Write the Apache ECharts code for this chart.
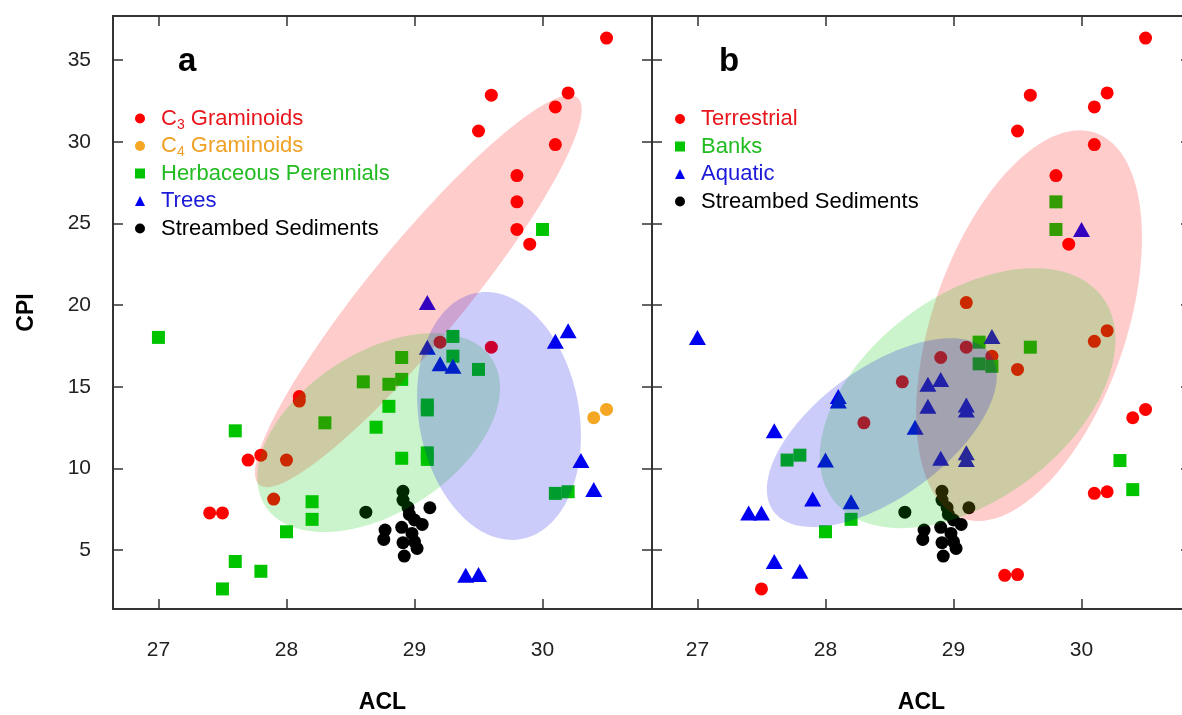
<!DOCTYPE html>
<html>
<head>
<meta charset="utf-8">
<script src="https://cdn.jsdelivr.net/npm/echarts@6/dist/echarts.min.js"></script>
<style>
  html, body { margin: 0; padding: 0; background: #fff; }
  #chart { width: 1182px; height: 715px; }
</style>
</head>
<body>
<div id="chart"></div>
<script>
// every sample: ACL, CPI, plant group (panel a) and habitat (panel b)
// plant: C3, C4, HP = herbaceous perennial, TR = tree, S = streambed sediment
// habitat: T = terrestrial, B = banks, A = aquatic, S = streambed sediment
const acl = [30.50, 29.60, 30.20, 30.10, 29.50, 30.10, 29.80, 29.80, 29.80, 30.00,
  29.90, 29.10, 27.00, 29.30, 29.20, 29.10, 29.60, 28.90, 29.30, 29.20,
  29.30, 29.50, 30.10, 30.20, 28.60, 28.80, 28.90, 28.10, 28.10, 28.80,
  29.10, 29.10, 28.30, 27.60, 28.70, 27.70, 27.80, 28.00, 28.90, 29.10,
  29.10, 30.40, 30.50, 30.30, 30.40, 30.10, 30.20, 27.90, 28.20, 28.20,
  27.40, 27.50, 28.00, 27.60, 27.80, 27.50, 29.40, 29.50,
  28.62, 29.12, 28.91, 28.91, 28.95, 28.96, 29.00, 29.06, 28.77, 28.76,
  28.90, 28.98, 28.91, 29.00, 29.02, 28.92];
const cpi = [36.35, 32.85, 32.99, 32.13, 30.66, 29.83, 27.93, 26.32, 24.63, 24.63,
  23.73, 20.15, 18.02, 18.08, 17.73, 17.42, 17.42, 16.79, 16.87, 16.40,
  16.25, 16.06, 17.78, 18.43, 15.30, 15.15, 15.45, 14.40, 14.12, 13.80,
  13.88, 13.58, 12.79, 12.30, 12.52, 10.51, 10.81, 10.51, 10.62, 10.95,
  10.55, 13.10, 13.61, 10.48, 8.70, 8.47, 8.57, 8.12, 7.96, 6.88,
  7.27, 7.27, 6.12, 4.30, 3.70, 2.62, 3.45, 3.50,
  7.32, 7.59, 8.60, 8.06, 7.60, 7.18, 6.84, 6.57, 6.22, 5.65,
  6.39, 6.02, 5.45, 5.51, 5.10, 4.63];
const plant = ['C3', 'C3', 'C3', 'C3', 'C3', 'C3', 'C3', 'C3', 'C3', 'HP',
  'C3', 'TR', 'HP', 'HP', 'C3', 'TR', 'C3', 'HP', 'HP', 'TR',
  'TR', 'HP', 'TR', 'TR', 'HP', 'HP', 'HP', 'C3', 'C3', 'HP',
  'HP', 'HP', 'HP', 'HP', 'HP', 'C3', 'C3', 'C3', 'HP', 'HP',
  'HP', 'C4', 'C4', 'TR', 'TR', 'HP', 'HP', 'C3', 'HP', 'HP',
  'C3', 'C3', 'HP', 'HP', 'HP', 'HP', 'TR', 'TR',
  'S', 'S', 'S', 'S', 'S', 'S', 'S', 'S', 'S', 'S',
  'S', 'S', 'S', 'S', 'S', 'S'];
const habitat = ['T', 'T', 'T', 'T', 'T', 'T', 'T', 'B', 'B', 'A',
  'T', 'T', 'A', 'A', 'B', 'T', 'B', 'T', 'T', 'B',
  'B', 'T', 'T', 'T', 'T', 'A', 'A', 'A', 'A', 'A',
  'A', 'A', 'T', 'A', 'A', 'B', 'B', 'A', 'A', 'A',
  'A', 'T', 'T', 'B', 'B', 'T', 'T', 'A', 'A', 'B',
  'A', 'A', 'B', 'A', 'A', 'T', 'T', 'T',
  'S', 'S', 'S', 'S', 'S', 'S', 'S', 'S', 'S', 'S',
  'S', 'S', 'S', 'S', 'S', 'S'];

const plantCodes = ['C3', 'C4', 'HP', 'TR', 'S'];
const plantNames = ['C3 Graminoids', 'C4 Graminoids', 'Herbaceous Perennials', 'Trees', 'Streambed Sediments'];
const habitatCodes = ['T', 'B', 'A', 'S'];
const habitatNames = ['Terrestrial', 'Banks', 'Aquatic', 'Streambed Sediments'];

// group ellipses: centre ACL, centre CPI, half width (ACL), half height (CPI), correlation
const ellipseA = [
  [29.03, 20.85, 1.276, 12.00, 0.927],  // C3 graminoids
  [28.72, 12.19, 0.948, 6.09, 0.45],    // herbaceous perennials
  [29.66, 13.21, 0.640, 7.59, -0.16]    // trees
];
const ellipseB = [
  [29.59, 18.74, 0.882, 11.96, 0.45],   // terrestrial
  [29.11, 14.30, 1.155, 7.96, 0.45],    // banks
  [28.44, 12.19, 0.898, 5.78, 0.60]     // aquatic
];

const xTicks = [27, 28, 29, 30];
const yTicks = [5, 10, 15, 20, 25, 30, 35];

const FONT = '"Liberation Sans", Arial, sans-serif';
const xMin = 26.645, xMax = 30.855;
const yMin = 1.39, yMax = 37.7;

const plantColor = { C3: '#ff0000', C4: '#f5a623', HP: '#00c400', TR: '#0000f0', S: '#000000' };
const plantText = { C3: '#e8161c', C4: '#f0a024', HP: '#22bb22', TR: '#1a1ad8', S: '#000000' };
const plantSymbol = { C3: 'circle', C4: 'circle', HP: 'rect', TR: 'triangle', S: 'circle' };
const habColor = { T: '#ff0000', B: '#00c400', A: '#0000f0', S: '#000000' };
const habText = { T: '#e8161c', B: '#22bb22', A: '#1a1ad8', S: '#000000' };
const habSymbol = { T: 'circle', B: 'rect', A: 'triangle', S: 'circle' };
const ellCol = ['rgba(255,0,0,0.2)', 'rgba(0,200,0,0.2)', 'rgba(0,0,230,0.2)'];

const chart = echarts.init(document.getElementById('chart'));

function symSize(sym) {
  if (sym === 'triangle') return [17, 15];
  return 13;
}

function pointsOf(groups, code) {
  const out = [];
  acl.forEach((a, i) => { if (groups[i] === code) out.push([a, cpi[i]]); });
  return out;
}

function renderEllipse(params, api) {
  const cx = api.value(0), cy = api.value(1), rx = api.value(2), ry = api.value(3), rho = api.value(4);
  const pts = [];
  const k = Math.sqrt(1 - rho * rho);
  for (let i = 0; i < 144; i++) {
    const t = i / 144 * Math.PI * 2;
    const c = Math.cos(t), s = Math.sin(t);
    pts.push(api.coord([cx + rx * c, cy + ry * (rho * c + k * s)]));
  }
  return { type: 'polygon', shape: { points: pts }, style: { fill: api.visual('color') } };
}

const lineStyle = { color: '#333', width: 2 };
const tickStyle = { color: '#333', width: 1.5 };

function xAxes(grid) {
  return [
    {
      gridIndex: grid, type: 'value', min: xMin, max: xMax, position: 'bottom',
      name: 'ACL', nameLocation: 'middle', nameGap: 82,
      nameTextStyle: { fontFamily: FONT, fontWeight: 'bold', fontSize: 23, color: '#000' },
      axisLine: { show: true, onZero: false, lineStyle },
      axisTick: { show: true, inside: true, length: 10, customValues: xTicks, lineStyle: tickStyle },
      axisLabel: { customValues: xTicks, fontFamily: FONT, fontSize: 21, color: '#222', margin: 31 },
      splitLine: { show: false }
    },
    {
      gridIndex: grid, type: 'value', min: xMin, max: xMax, position: 'top',
      axisLine: { show: true, onZero: false, lineStyle },
      axisTick: { show: true, inside: true, length: 10, customValues: xTicks, lineStyle: tickStyle },
      axisLabel: { show: false },
      splitLine: { show: false }
    }
  ];
}

function yAxes(grid, labels) {
  const left = {
    gridIndex: grid, type: 'value', min: yMin, max: yMax, position: 'left',
    axisLine: { show: true, onZero: false, lineStyle },
    axisTick: { show: true, inside: true, length: 10, customValues: yTicks, lineStyle: tickStyle },
    axisLabel: { show: labels, customValues: yTicks, fontFamily: FONT, fontSize: 21, color: '#222', margin: 22 },
    splitLine: { show: false }
  };
  if (labels) {
    left.name = 'CPI';
    left.nameLocation = 'middle';
    left.nameGap = 75;
    left.nameTextStyle = { fontFamily: FONT, fontWeight: 'bold', fontSize: 23, color: '#000' };
  }
  const right = {
    gridIndex: grid, type: 'value', min: yMin, max: yMax, position: 'right',
    axisLine: { show: true, onZero: false, lineStyle },
    axisTick: { show: true, inside: true, length: 10, customValues: yTicks, lineStyle: tickStyle },
    axisLabel: { show: false },
    splitLine: { show: false }
  };
  return [left, right];
}

const series = [];
plantCodes.forEach((code, i) => {
  series.push({
    name: plantNames[i], type: 'scatter', xAxisIndex: 0, yAxisIndex: 0,
    symbol: plantSymbol[code], symbolSize: symSize(plantSymbol[code]),
    itemStyle: { color: plantColor[code], opacity: 1 },
    data: pointsOf(plant, code), z: 2
  });
});
habitatCodes.forEach((code, i) => {
  series.push({
    name: habitatNames[i], type: 'scatter', xAxisIndex: 2, yAxisIndex: 2,
    symbol: habSymbol[code], symbolSize: symSize(habSymbol[code]),
    itemStyle: { color: habColor[code], opacity: 1 },
    data: pointsOf(habitat, code), z: 2
  });
});
ellipseA.forEach((e, i) => {
  series.push({
    name: 'ellA' + i, type: 'custom', xAxisIndex: 0, yAxisIndex: 0, clip: true,
    renderItem: renderEllipse, itemStyle: { color: ellCol[i] }, data: [e], z: 3, silent: true
  });
});
ellipseB.forEach((e, i) => {
  series.push({
    name: 'ellB' + i, type: 'custom', xAxisIndex: 2, yAxisIndex: 2, clip: true,
    renderItem: renderEllipse, itemStyle: { color: ellCol[i] }, data: [e], z: 3, silent: true
  });
});

const legendText = {
  fontFamily: FONT, fontSize: 22, lineHeight: 27, padding: [0, 0, 0, 11],
  rich: { sub: { fontFamily: FONT, fontSize: 14, lineHeight: 14, padding: [13, 0, 0, 0] } }
};

const option = {
  animation: false,
  backgroundColor: '#fff',
  grid: [
    { left: 113, top: 16, width: 539, bottom: 106, outerBoundsMode: 'none', containLabel: false },
    { left: 652, top: 16, width: 539, bottom: 106, outerBoundsMode: 'none', containLabel: false }
  ],
  xAxis: [...xAxes(0), ...xAxes(1)],
  yAxis: [...yAxes(0, true), ...yAxes(1, false)],
  legend: [
    {
      orient: 'vertical', left: 135, top: 105, padding: 0, itemWidth: 10, itemHeight: 10, itemGap: 0.5,
      selectedMode: false, textStyle: legendText,
      formatter: n => n.replace(/^C(\d)/, 'C{sub|$1}'),
      data: plantCodes.map((c, i) => ({ name: plantNames[i], icon: plantSymbol[c], textStyle: { color: plantText[c] } }))
    },
    {
      orient: 'vertical', left: 675, top: 105.5, padding: 0, itemWidth: 10, itemHeight: 10, itemGap: 0.5,
      selectedMode: false, textStyle: legendText,
      data: habitatCodes.map((c, i) => ({ name: habitatNames[i], icon: habSymbol[c], textStyle: { color: habText[c] } }))
    }
  ],
  graphic: [
    { type: 'text', left: 178, top: 45, style: { text: 'a', font: 'bold 33px ' + FONT, fill: '#000' } },
    { type: 'text', left: 719, top: 45, style: { text: 'b', font: 'bold 33px ' + FONT, fill: '#000' } }
  ],
  series
};

chart.setOption(option);
</script>
</body>
</html>
